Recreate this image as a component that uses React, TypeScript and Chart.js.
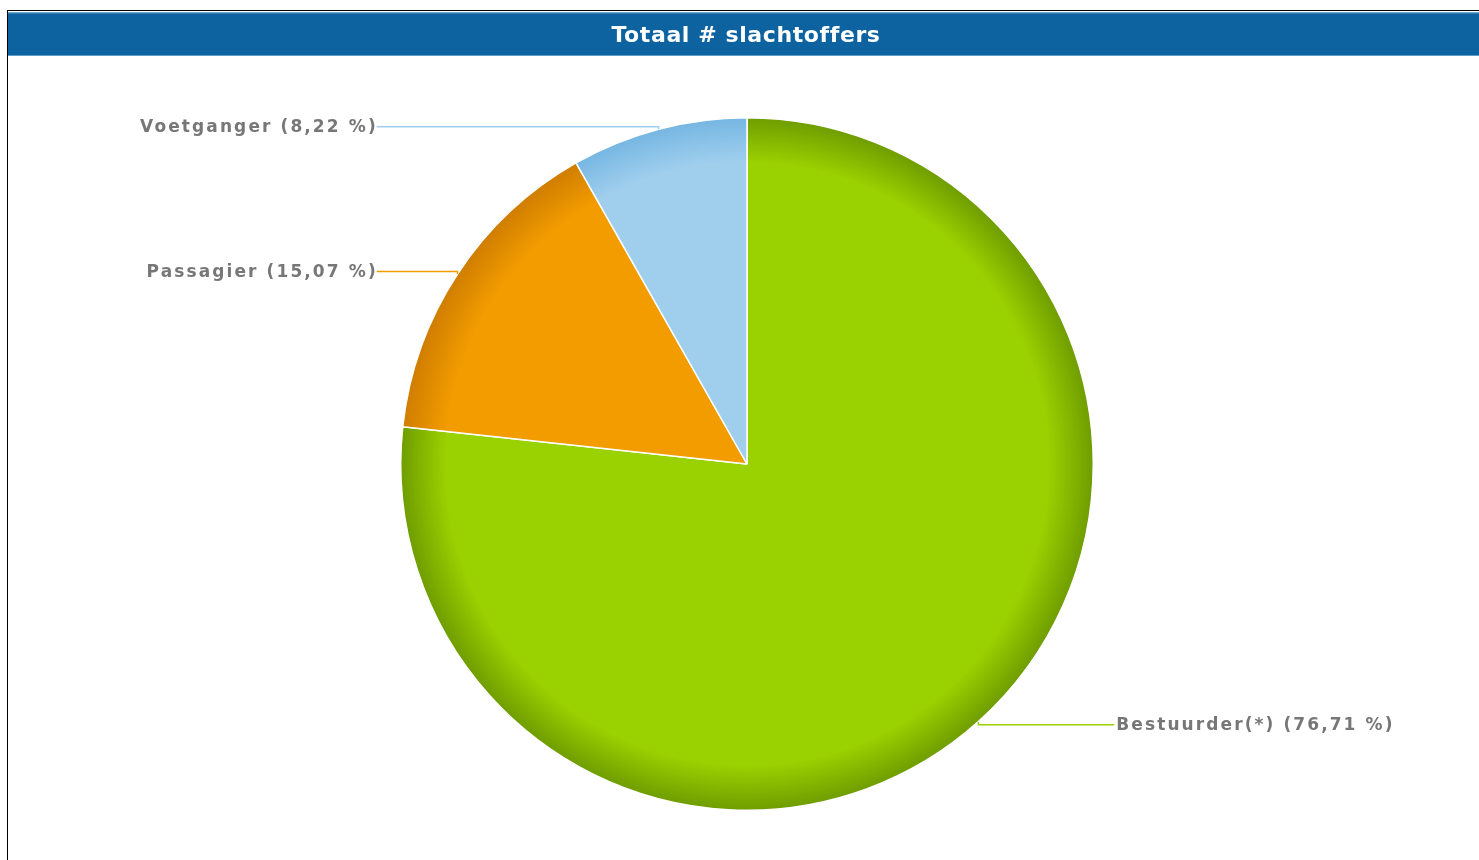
import React, { useEffect, useRef } from "react";
import { Chart, registerables } from "chart.js";

Chart.register(...registerables);

const TITLE = "Totaal # slachtoffers";
const categories = ["Bestuurder(*)", "Passagier", "Voetganger"];
const percentages = [76.71, 15.07, 8.22];
const baseColors = ["#9ad100", "#f39c00", "#a0cfee"];
const edgeColors = ["#6e9c00", "#cf7d00", "#75b6e2"];

const fmt = (v: number) => v.toFixed(2).replace(".", ",");

const decorPlugin = {
  id: "decor",
  beforeDraw(chart: any) {
    const { ctx, width } = chart;
    ctx.save();
    ctx.fillStyle = "#0c63a0";
    ctx.fillRect(0, 1.5, width, 43.5);
    ctx.fillStyle = "#5d9bcb";
    ctx.fillRect(0, 1.5, width, 1);
    ctx.fillRect(0, 44, width, 1);
    ctx.font = "bold 22px 'DejaVu Sans'";
    (ctx as any).letterSpacing = "0.6px";
    ctx.fillStyle = "#ffffff";
    ctx.textAlign = "center";
    ctx.textBaseline = "middle";
    ctx.fillText(TITLE, 738, 25);
    ctx.restore();
  },
  afterDatasetsDraw(chart: any) {
    const { ctx } = chart;
    const meta = chart.getDatasetMeta(0);
    ctx.save();
    ctx.font = "bold 17px 'DejaVu Sans'";
    (ctx as any).letterSpacing = "2.1px";
    ctx.textBaseline = "middle";
    meta.data.forEach((arc: any, i: number) => {
      const { x, y, startAngle, endAngle, outerRadius } = arc.getProps(
        ["x", "y", "startAngle", "endAngle", "outerRadius"],
        true
      );
      const mid = (startAngle + endAngle) / 2;
      const ex = x + outerRadius * Math.cos(mid);
      const ey = y + outerRadius * Math.sin(mid);
      const left = Math.cos(mid) < 0;
      const ly = ey + (ey < y ? -2.5 : 3);
      const ax = left ? x - outerRadius - 24 : x + outerRadius + 21;
      ctx.strokeStyle = baseColors[i];
      ctx.lineWidth = 1.5;
      ctx.beginPath();
      ctx.moveTo(ex, ey);
      ctx.lineTo(ex, ly);
      ctx.lineTo(ax, ly);
      ctx.stroke();
      ctx.fillStyle = "#777777";
      ctx.textAlign = left ? "right" : "left";
      const text = `${categories[i]} (${fmt(percentages[i])} %)`;
      ctx.fillText(text, left ? ax + 1 : ax + 2, ly + 1);
    });
    ctx.restore();
  },
};

export default function App() {
  const ref = useRef<HTMLCanvasElement | null>(null);
  useEffect(() => {
    if (!ref.current) return;
    const chart = new Chart(ref.current, {
      type: "pie",
      data: {
        labels: categories,
        datasets: [
          {
            data: percentages,
            backgroundColor: (c: any) => {
              const i = c.dataIndex ?? 0;
              const area = c.chart.chartArea;
              if (!area) return baseColors[i];
              const cx = (area.left + area.right) / 2;
              const cy = (area.top + area.bottom) / 2;
              const r = Math.min(area.right - area.left, area.bottom - area.top) / 2;
              const g = c.chart.ctx.createRadialGradient(cx, cy, 0, cx, cy, r);
              g.addColorStop(0, baseColors[i]);
              g.addColorStop(0.87, baseColors[i]);
              g.addColorStop(1, edgeColors[i]);
              return g;
            },
            borderColor: "#ffffff",
            borderWidth: 1.5,
          },
        ],
      },
      options: {
        animation: false,
        responsive: true,
        maintainAspectRatio: false,
        layout: { padding: { top: 106, bottom: 49, left: 392, right: 385 } },
        plugins: {
          legend: { display: false },
          title: { display: false },
          tooltip: { enabled: false },
        },
      },
      plugins: [decorPlugin],
    });
    return () => chart.destroy();
  }, []);
  return (
    <div
      style={{
        position: "absolute",
        left: 7,
        top: 10,
        width: 1472,
        height: 850,
        borderTop: "1px solid #000",
        borderLeft: "1px solid #000",
        background: "#fff",
      }}
    >
      <div style={{ position: "relative", width: 1471, height: 849 }}>
        <canvas ref={ref} />
      </div>
    </div>
  );
}
